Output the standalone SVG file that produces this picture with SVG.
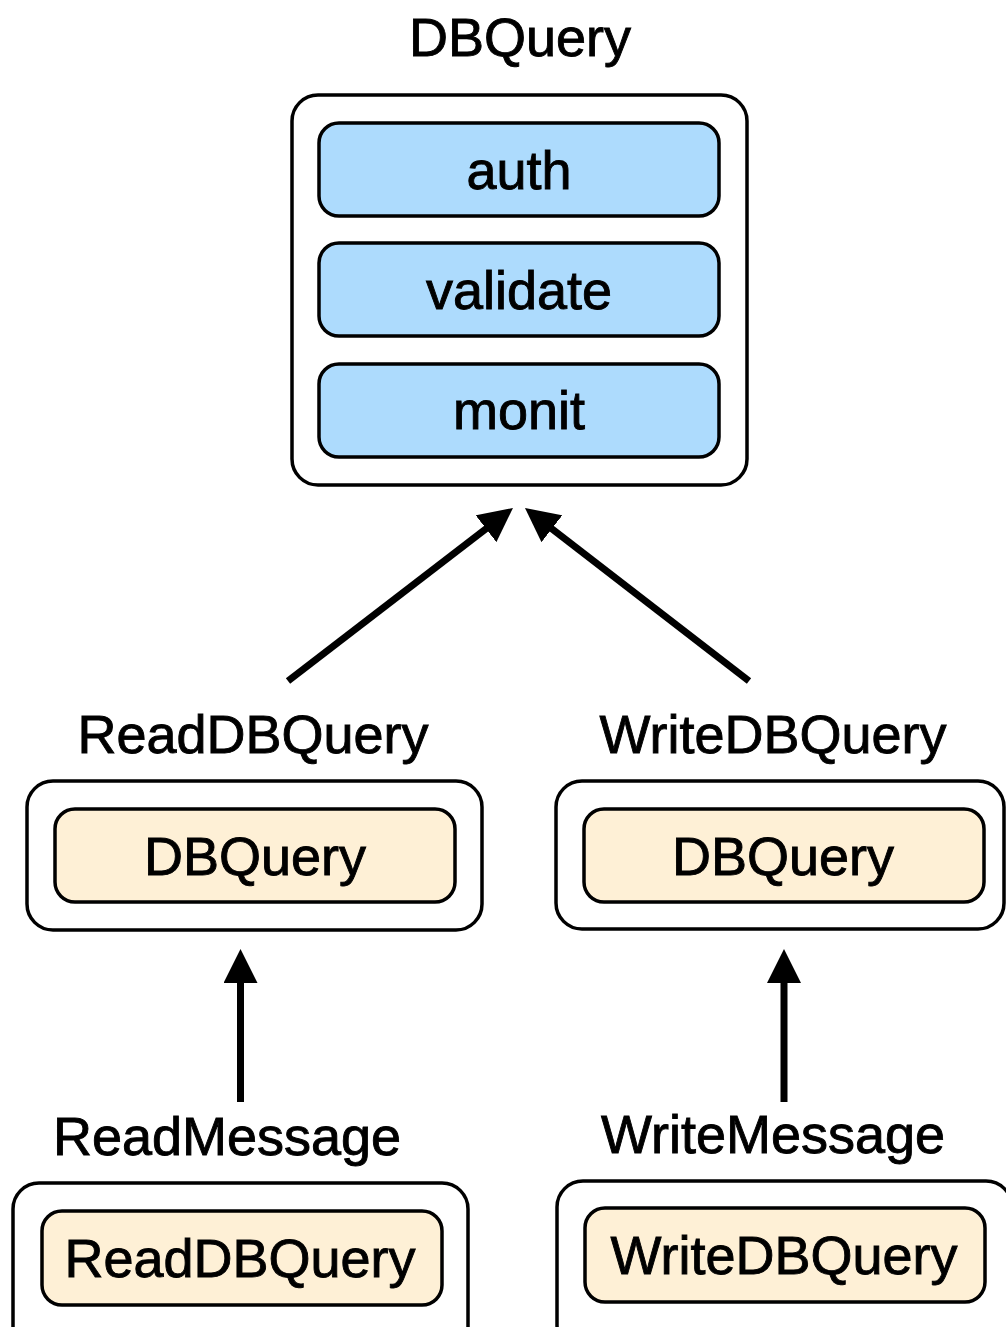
<svg xmlns="http://www.w3.org/2000/svg" width="1006" height="1327" viewBox="0 0 1006 1327">
<style>
  .outer { fill: #ffffff; stroke: #000000; stroke-width: 3.5; }
  .blue { fill: #addbfd; stroke: #000000; stroke-width: 3.5; }
  .cream { fill: #fef0d6; stroke: #000000; stroke-width: 3.5; }
  text { font-family: "Liberation Sans", Arial, Helvetica, sans-serif; font-size: 54px; fill: #000000; stroke: #000000; stroke-width: 0.9; text-anchor: middle; }
  .conn { stroke: #000000; stroke-width: 7; fill: none; marker-end: url(#arrow); }
</style>
<defs>
  <marker id="arrow" markerUnits="userSpaceOnUse" viewBox="0 0 34 34" refX="14" refY="17" markerWidth="34" markerHeight="34" orient="auto">
    <path d="M0,0 L34,17 L0,34 Z" fill="#000000"/>
  </marker>
</defs>
<rect width="1006" height="1327" fill="#ffffff"/>

<g id="dbquery">
  <text x="520" y="56">DBQuery</text>
  <rect class="outer" x="292" y="95" width="455" height="390" rx="26" ry="26"/>
  <g id="auth">
    <rect class="blue" x="319" y="123" width="400" height="93" rx="20" ry="20"/>
    <text x="519" y="189">auth</text>
  </g>
  <g id="validate">
    <rect class="blue" x="319" y="243" width="400" height="93" rx="20" ry="20"/>
    <text x="519" y="309">validate</text>
  </g>
  <g id="monit">
    <rect class="blue" x="319" y="364" width="400" height="93" rx="20" ry="20"/>
    <text x="519" y="429">monit</text>
  </g>
</g>

<g id="readdbquery">
  <text x="253" y="753">ReadDBQuery</text>
  <rect class="outer" x="27" y="781" width="455" height="149" rx="26" ry="26"/>
  <rect class="cream" x="55" y="809" width="400" height="93" rx="20" ry="20"/>
  <text x="255" y="875">DBQuery</text>
</g>

<g id="writedbquery">
  <text x="773" y="753">WriteDBQuery</text>
  <rect class="outer" x="556" y="781" width="448" height="148" rx="26" ry="26"/>
  <rect class="cream" x="584" y="809" width="400" height="93" rx="20" ry="20"/>
  <text x="783" y="875">DBQuery</text>
</g>

<g id="readmessage">
  <text x="227" y="1155">ReadMessage</text>
  <rect class="outer" x="13" y="1183" width="455" height="170" rx="26" ry="26"/>
  <rect class="cream" x="42" y="1211" width="400" height="94" rx="20" ry="20"/>
  <text x="240" y="1277">ReadDBQuery</text>
</g>

<g id="writemessage">
  <text x="773" y="1153">WriteMessage</text>
  <rect class="outer" x="557" y="1181" width="455" height="170" rx="26" ry="26"/>
  <rect class="cream" x="585" y="1208" width="400" height="94" rx="20" ry="20"/>
  <text x="784" y="1274">WriteDBQuery</text>
</g>

<g id="connectors">
  <line class="conn" x1="288" y1="681" x2="497.1" y2="520.2"/>
  <line class="conn" x1="749" y1="681" x2="540.8" y2="520.2"/>
  <line class="conn" x1="240.5" y1="1102" x2="240.5" y2="969"/>
  <line class="conn" x1="784" y1="1102" x2="784" y2="969"/>
</g>
</svg>
